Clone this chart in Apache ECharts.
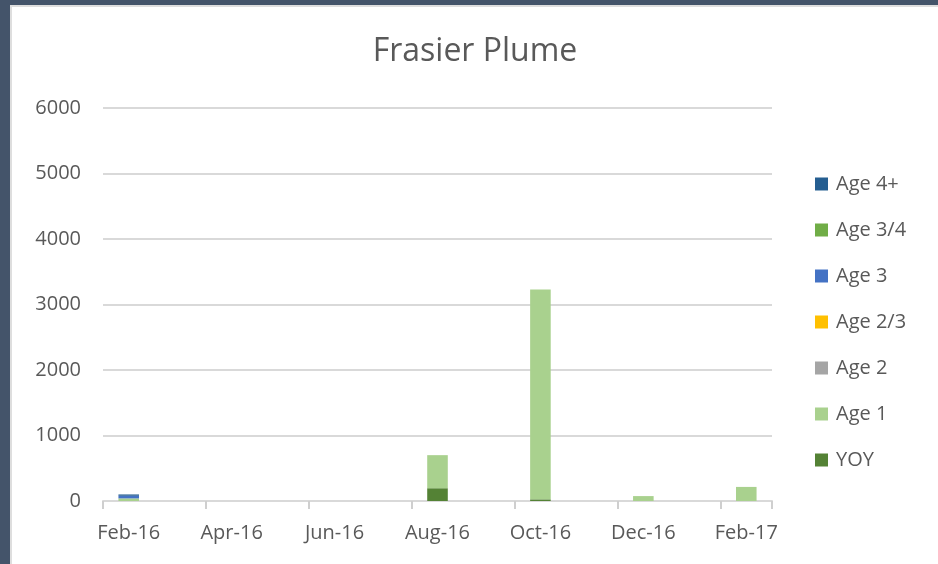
<!DOCTYPE html>
<html>
<head>
<meta charset="utf-8">
<script src="https://cdn.jsdelivr.net/npm/echarts@6/dist/echarts.min.js"></script>
<style>
  html, body { margin: 0; padding: 0; }
  .frame {
    position: relative;
    width: 938px;
    height: 564px;
    background: #44546A;
    overflow: hidden;
  }
  .panel {
    position: absolute;
    left: 10px;
    top: 5px;
    width: 928px;
    height: 559px;
    background: #fff;
    border-left: 2px solid #dedede;
    border-top: 2px solid #dedede;
    box-sizing: border-box;
  }
  #chart { width: 926px; height: 557px; }
</style>
</head>
<body>
<div class="frame">
  <div class="panel"><div id="chart"></div></div>
</div>
<script>
// months on the category axis (base unit: month)
const months = ['Feb-16', 'Mar-16', 'Apr-16', 'May-16', 'Jun-16', 'Jul-16', 'Aug-16',
  'Sep-16', 'Oct-16', 'Nov-16', 'Dec-16', 'Jan-17', 'Feb-17']

// series values, stacked bottom to top
const yoy   = [0, 0, 0, 0, 0, 0, 195, 0, 25, 0, 0, 0, 0]
const age1  = [40, 0, 0, 0, 0, 0, 505, 0, 3205, 0, 75, 0, 215]
const age2  = [0, 0, 0, 0, 0, 0, 0, 0, 0, 0, 0, 0, 0]
const age23 = [0, 0, 0, 0, 0, 0, 0, 0, 0, 0, 0, 0, 0]
const age3  = [40, 0, 0, 0, 0, 0, 0, 0, 0, 0, 0, 0, 0]
const age34 = [0, 0, 0, 0, 0, 0, 0, 0, 0, 0, 0, 0, 0]
const age4p = [20, 0, 0, 0, 0, 0, 0, 0, 0, 0, 0, 0, 0]

const seriesDefs = [
  { name: 'YOY', data: yoy, color: '#548235' },
  { name: 'Age 1', data: age1, color: '#A9D18E' },
  { name: 'Age 2', data: age2, color: '#A5A5A5' },
  { name: 'Age 2/3', data: age23, color: '#FFC000' },
  { name: 'Age 3', data: age3, color: '#4472C4' },
  { name: 'Age 3/4', data: age34, color: '#70AD47' },
  { name: 'Age 4+', data: age4p, color: '#255E91' }
]

const textColor = '#595959'
const lineColor = '#D9D9D9'
const font = '"Open Sans", "Noto Sans", sans-serif'

const chart = echarts.init(document.getElementById('chart'))

chart.setOption({
  animation: false,
  title: {
    text: 'Frasier Plume',
    left: 'center',
    top: 24,
    textStyle: { fontFamily: font, fontSize: 32, fontWeight: 'normal', color: textColor }
  },
  legend: {
    orient: 'vertical',
    left: 798,
    top: 162,
    itemWidth: 13,
    itemHeight: 13,
    itemGap: 26,
    icon: 'rect',
    data: seriesDefs.map(s => s.name).reverse(),
    textStyle: { fontFamily: font, fontSize: 20, color: textColor, padding: [0, 0, 0, 3] }
  },
  grid: { left: 91, right: 166, top: 101, bottom: 63 },
  xAxis: {
    type: 'category',
    data: months,
    boundaryGap: true,
    axisLine: { lineStyle: { color: lineColor, width: 2 } },
    axisTick: {
      show: true,
      interval: (i) => i % 2 === 0 && i < months.length - 1 || i === months.length - 1,
      length: 8,
      lineStyle: { color: '#CFCFCF', width: 2 }
    },
    axisLabel: { interval: 1, margin: 22, fontFamily: font, fontSize: 20, color: textColor }
  },
  yAxis: {
    type: 'value',
    min: 0,
    max: 6000,
    interval: 1000,
    axisLine: { show: false },
    axisTick: { show: false },
    axisLabel: { margin: 22, fontFamily: font, fontSize: 20, color: textColor, formatter: v => String(v) },
    splitLine: { lineStyle: { color: lineColor, width: 2 } }
  },
  series: seriesDefs.map(s => ({
    name: s.name,
    type: 'bar',
    stack: 'total',
    barCategoryGap: '60%',
    data: s.data,
    itemStyle: { color: s.color }
  }))
})
</script>
</body>
</html>
